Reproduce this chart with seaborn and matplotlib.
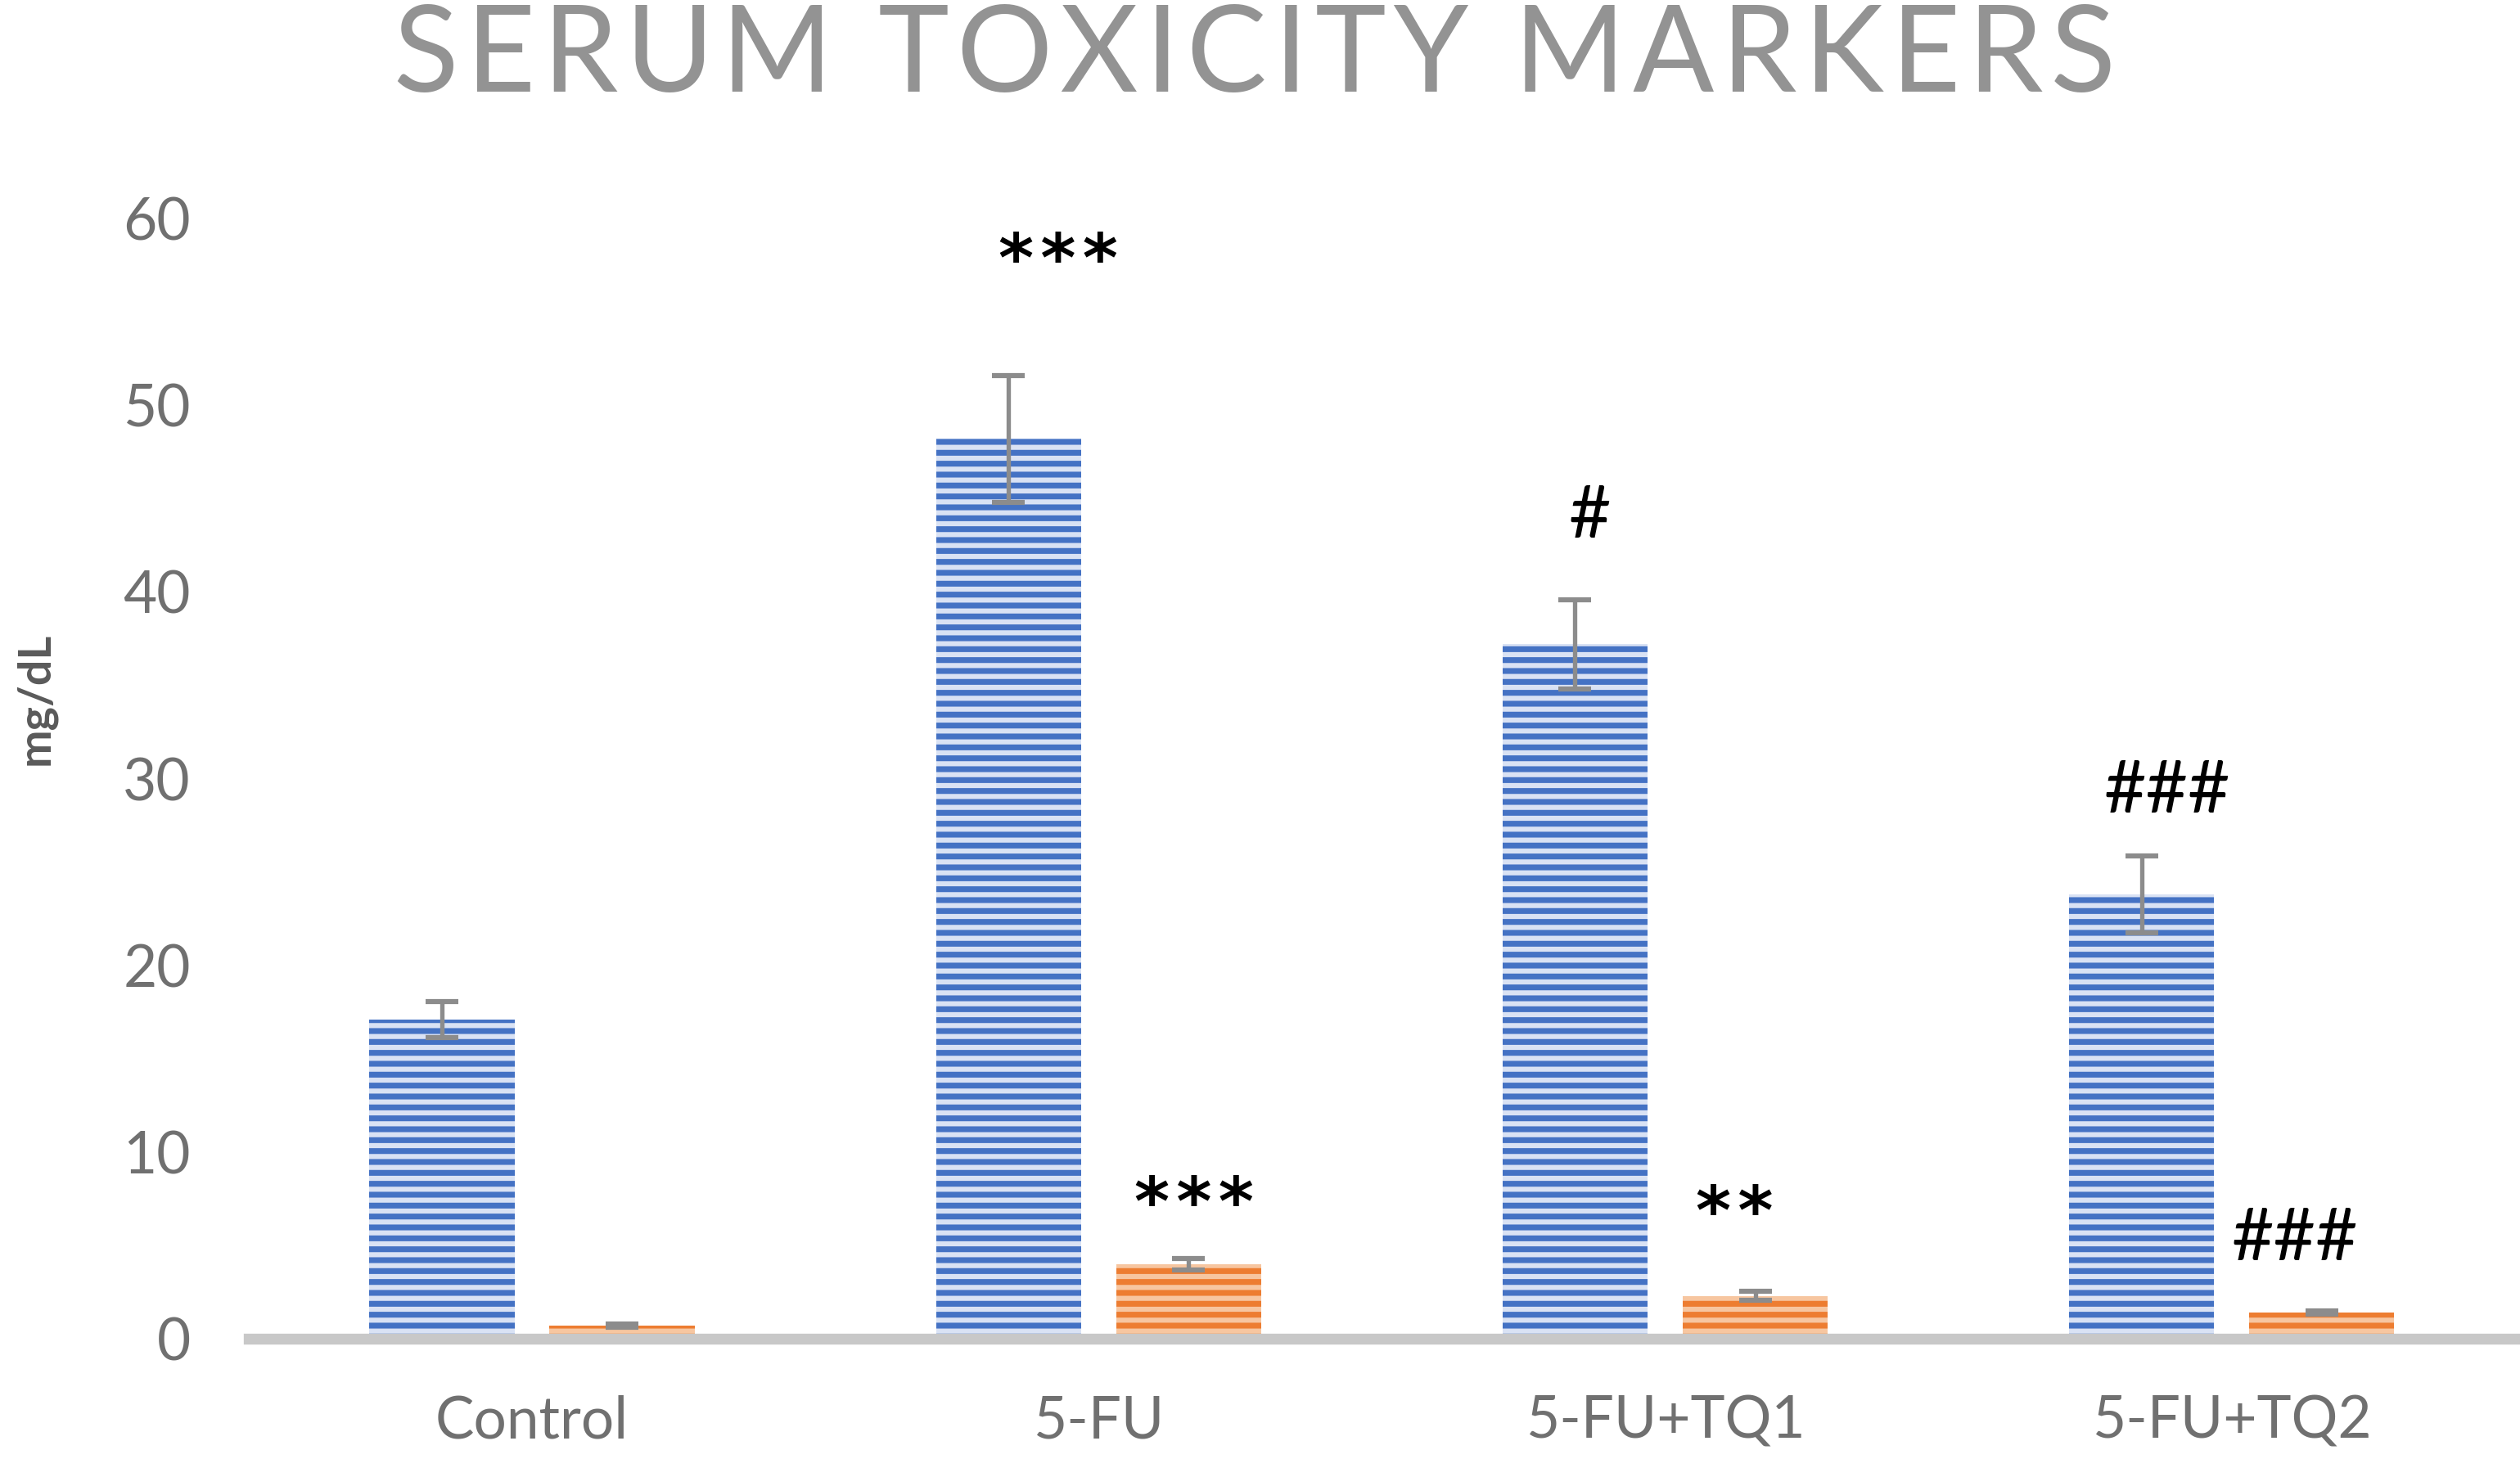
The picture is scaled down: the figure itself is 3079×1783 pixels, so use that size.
import pandas as pd
import matplotlib
matplotlib.use("Agg")
import matplotlib.pyplot as plt
import seaborn as sns

# --- datos ---
grupos = ["Control", "5-FU", "5-FU+TQ1", "5-FU+TQ2"]
series = ["Serie 1", "Serie 2"]
media_s1 = [17.1, 48.2, 37.2, 23.8]
error_s1 = [0.95, 3.4, 2.4, 2.05]
media_s2 = [0.7, 4.0, 2.3, 1.4]
error_s2 = [0.1, 0.3, 0.25, 0.1]
marcas_s1 = ["", "***", "#", "###"]
altura_marcas_s1 = [0, 57.6, 44.0, 29.3]
desplaz_marcas_s1 = [0, 0.088, 0.026, 0.045]
marcas_s2 = ["", "***", "**", "###"]
altura_marcas_s2 = [0, 7.1, 6.6, 5.3]
desplaz_marcas_s2 = [0, 0.01, -0.037, -0.048]
yticks = [0, 10, 20, 30, 40, 50, 60]

sns.set_theme(style="white")
plt.rcParams['font.family'] = ['Lato', 'DejaVu Sans']
plt.rcParams['hatch.linewidth'] = 3.2

df = pd.DataFrame({
    'Grupo': grupos * 2,
    'Serie': [series[0]] * 4 + [series[1]] * 4,
    'Valor': media_s1 + media_s2,
})

dpi = 160
fig = plt.figure(figsize=(3079 / dpi, 1783 / dpi), dpi=dpi)
ax = fig.add_axes([0.0987, 0.0824, 0.8993, 0.7678])

sns.barplot(data=df, x='Grupo', y='Valor', hue='Serie', order=grupos,
            hue_order=series, errorbar=None, width=0.636, gap=0.195,
            ax=ax, legend=False)

claro = {series[0]: '#D9E2F4', series[1]: '#F7C6A0'}
oscuro = {series[0]: '#4472C4', series[1]: '#ED7D31'}
errores = error_s1 + error_s2
serie_barra = [series[0]] * 4 + [series[1]] * 4
barras = ax.patches[:8]
for p, s, e in zip(barras, serie_barra, errores):
    p.set_facecolor(claro[s])
    p.set_edgecolor(oscuro[s])
    p.set_linewidth(0)
    p.set_hatch('--')
    cx = p.get_x() + p.get_width() / 2
    ax.errorbar(cx, p.get_height(), yerr=e, color='#8C8C8C', elinewidth=2.4,
                capsize=9, capthick=2.8, zorder=5)

# marcas de significancia
textos = marcas_s1 + marcas_s2
alturas = altura_marcas_s1 + altura_marcas_s2
desplaz = desplaz_marcas_s1 + desplaz_marcas_s2
for p, t, h, dx in zip(barras, textos, alturas, desplaz):
    if not t:
        continue
    cx = p.get_x() + p.get_width() / 2 + dx
    if t.startswith('*'):
        ax.text(cx, h, "\u200a".join(t), ha='center', va='center',
                family='DejaVu Sans', fontsize=37, fontweight='bold',
                color='black')
    else:
        ax.text(cx, h, t, ha='center', va='center', fontsize=40, color='black')

ax.set_ylim(0, 60)
ax.set_xlim(-0.5, 3.5)
ax.set_yticks(yticks)
ax.set_xlabel("")
ax.set_ylabel("")
for lado in ['left', 'right', 'top']:
    ax.spines[lado].set_visible(False)
ax.spines['bottom'].set_color('#C8C8C8')
ax.spines['bottom'].set_linewidth(6)
ax.tick_params(axis='both', length=0, labelsize=32, labelcolor='#707070')
ax.tick_params(axis='x', pad=31)
ax.tick_params(axis='y', pad=32)

fig.text(0.014, 0.521, "mg/dL", rotation=90, ha='center', va='center',
         fontsize=25, fontweight='bold', color='#5A5A5A')
titulo = "\u200a \u200a".join("\u200a".join(palabra) for palabra in "SERUM TOXICITY MARKERS".split())
fig.text(0.498, 0.937, titulo, ha='center', va='baseline', fontsize=66,
         color='#939393')

fig.savefig("out.png", dpi=dpi)
